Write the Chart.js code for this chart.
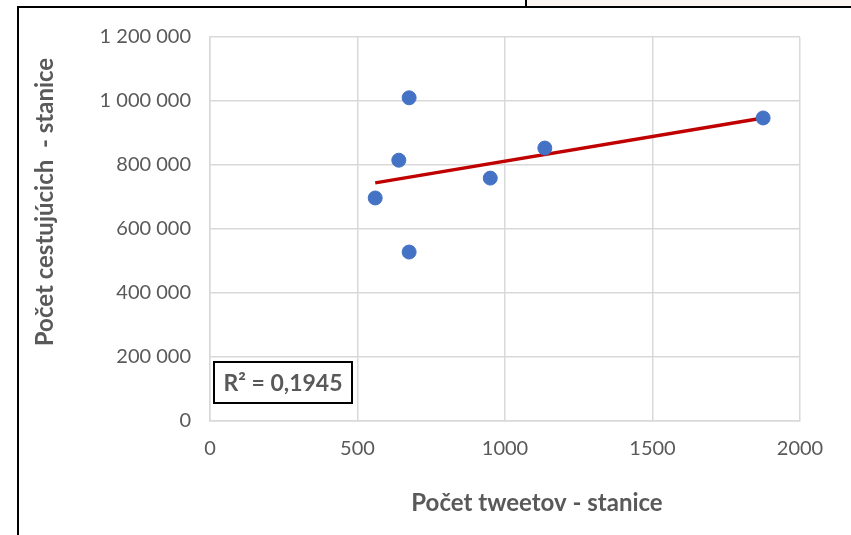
<!DOCTYPE html>
<html>
<head>
<meta charset="utf-8">
<script src="https://cdn.jsdelivr.net/npm/chart.js@4/dist/chart.umd.min.js"></script>
<style>
  html, body { margin: 0; padding: 0; background: #fff; }
  #wrap { position: relative; width: 851px; height: 535px; overflow: hidden; }
  #topStrip { position: absolute; left: 527px; top: 0; width: 324px; height: 6px; background: #fbf6f1; }
  #frame { position: absolute; left: 17px; top: 6px; width: 900px; height: 600px;
           border-left: 2px solid #000; border-top: 2px solid #000; }
  #tick { position: absolute; left: 525px; top: 0; width: 2px; height: 7px; background: #000; }
  #chart { position: absolute; left: 0; top: 0; }
</style>
</head>
<body>
<div id="wrap">
  <div id="topStrip"></div>
  <div id="frame"></div>
  <div id="tick"></div>
  <canvas id="chart" width="851" height="535"></canvas>
</div>
<script>
// tweets per station vs. passengers per station
const tweets = [560, 640, 675, 675, 950, 1135, 1875];
const passengers = [697000, 815000, 1010000, 528000, 759000, 853000, 947000];
const xTicks = [0, 500, 1000, 1500, 2000];
const yTicks = [0, 200000, 400000, 600000, 800000, 1000000, 1200000];
const xTitle = 'Počet tweetov - stanice';
const yTitle = 'Počet cestujúcich  - stanice';
const r2Label = 'R² = 0,1945';

const GREY = '#595959';
const FONT = 'Lato, "Open Sans", sans-serif';

// least squares trendline over the points
function trend(){
  const n = tweets.length;
  const mx = tweets.reduce((a, b) => a + b, 0) / n;
  const my = passengers.reduce((a, b) => a + b, 0) / n;
  let sxy = 0, sxx = 0;
  for (let i = 0; i < n; i++){
    sxy += (tweets[i] - mx) * (passengers[i] - my);
    sxx += (tweets[i] - mx) * (tweets[i] - mx);
  }
  const k = sxy / sxx, q = my - k * mx;
  const x0 = Math.min(...tweets), x1 = Math.max(...tweets);
  return [{x: x0, y: k * x0 + q}, {x: x1, y: k * x1 + q}];
}

function fmt(v){
  return String(v).replace(/\B(?=(\d{3})+(?!\d))/g, ' ');
}

const overlay = {
  id: 'overlay',
  afterDraw(chart){
    const ctx = chart.ctx;
    ctx.save();
    ctx.fillStyle = GREY;
    ctx.font = 'bold 24px ' + FONT;
    ctx.textAlign = 'center';
    ctx.textBaseline = 'middle';
    ctx.fillText(xTitle, 537, 503);
    ctx.translate(45, 202);
    ctx.rotate(-Math.PI / 2);
    ctx.fillText(yTitle, 0, 0);
    ctx.restore();

    // R² box
    ctx.save();
    ctx.fillStyle = '#fff';
    ctx.fillRect(214, 362, 138, 41);
    ctx.strokeStyle = '#000';
    ctx.lineWidth = 2;
    ctx.strokeRect(214, 362, 138, 41);
    ctx.fillStyle = GREY;
    ctx.font = 'bold 23px ' + FONT;
    ctx.textAlign = 'center';
    ctx.textBaseline = 'middle';
    ctx.fillText(r2Label, 283, 384);
    ctx.restore();
  }
};

const ctx = document.getElementById('chart').getContext('2d');
const myChart = new Chart(ctx, {
  type: 'scatter',
  data: {
    datasets: [{
      label: 'stanice',
      data: tweets.map((t, i) => ({x: t, y: passengers[i]})),
      backgroundColor: '#4472c4',
      borderColor: '#4472c4',
      pointRadius: 7,
      order: 1
    }, {
      type: 'line',
      label: 'trend',
      data: trend(),
      borderColor: '#c00000',
      borderWidth: 3.5,
      pointRadius: 0,
      order: 2
    }]
  },
  options: {
    responsive: false,
    animation: false,
    layout: { padding: { top: 37, right: 51, left: 0, bottom: 0 } },
    plugins: { legend: { display: false }, tooltip: { enabled: false } },
    scales: {
      x: {
        type: 'linear',
        min: 0, max: 2000,
        afterBuildTicks: s => { s.ticks = xTicks.map(v => ({value: v})); },
        afterFit: s => { s.height = 114; },
        grid: { color: '#d9d9d9', lineWidth: 1.5, tickLength: 0 },
        border: { color: '#d9d9d9', width: 1.5 },
        ticks: { color: GREY, font: { family: FONT, size: 20 }, padding: 16, callback: v => String(v) }
      },
      y: {
        min: 0, max: 1200000,
        afterBuildTicks: s => { s.ticks = yTicks.map(v => ({value: v})); },
        afterFit: s => { s.width = 210; },
        grid: { color: '#d9d9d9', lineWidth: 1.5, tickLength: 0 },
        border: { color: '#d9d9d9', width: 1.5 },
        ticks: { color: GREY, font: { family: FONT, size: 20 }, padding: 19, callback: v => fmt(v) }
      }
    }
  },
  plugins: [overlay]
});
</script>
</body>
</html>
